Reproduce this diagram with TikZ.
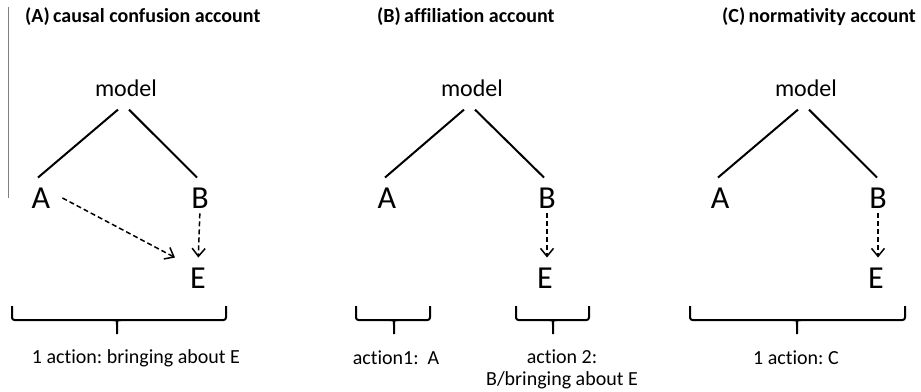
\documentclass[tikz,border=0pt]{standalone}
\usepackage{fontspec}
\setmainfont{Carlito}[Ligatures=NoCommon]
\frenchspacing
\usetikzlibrary{arrows.meta,positioning,calc}

% square brace under one action: left end, tip, right end
\newcommand\actbrace[3]{%
  \draw[act,rounded corners=2.5pt] (#1,306) -- (#1,320) -- (#3,320) -- (#3,306);
  \draw[act] (#2-4,320) .. controls (#2,320) .. (#2,325) -- (#2,334);
  \draw[act] (#2+4,320) .. controls (#2,320) .. (#2,325);}

\begin{document}
\begin{tikzpicture}[x=1pt,y=-1pt,
    title/.style={font=\fontsize{20}{22}\selectfont\bfseries,anchor=west,inner sep=0pt},
    top/.style={font=\fontsize{24}{28}\selectfont,inner sep=0pt},
    var/.style={font=\fontsize{32}{36}\selectfont,inner sep=0pt},
    note/.style={font=\fontsize{20}{22}\selectfont,inner sep=0pt,align=center},
    tree/.style={line width=2pt},
    cause/.style={line width=1.5pt,dash pattern=on 5pt off 3pt,
      -{Straight Barb[length=8pt,width=13pt,line width=1.5pt]}},
    act/.style={line width=2pt}]
  \useasboundingbox (0,0) rectangle (921,391);

  % separator at the left edge
  \draw[gray,line width=0.8pt] (8,7) -- (8,198);

  % (A) causal confusion
  \node[title] (tA) at (25,17) {(A)\,causal confusion account};
  \node[top] (mA) at (126,88) {model};
  \node[var] (aA) at (41,198) {A};
  \node[var] (bA) at (200,198) {B};
  \node[var] (eA) at (198,278) {E};
  \draw[tree] ([xshift=-8pt,yshift=-13pt]mA.south) -- ([xshift=-3pt,yshift=10pt]aA.north);
  \draw[tree] ([xshift=3pt,yshift=-13pt]mA.south) -- ([xshift=-3pt,yshift=10pt]bA.north);
  \draw[cause] ([xshift=12pt]aA.east) -- ([xshift=-15pt,yshift=10pt]eA.north west);
  \draw[cause,shorten <=5pt,shorten >=10pt] (bA.south) -- (eA.north);
  \actbrace{12}{117}{226}
  \node[note] (lA) at (136,358) {1 action: bringing about E};

  % (B) affiliation
  \node[title] (tB) at (377,17) {(B)\,affiliation account};
  \node[top] (mB) at (472,88) {model};
  \node[var] (aB) at (387,198) {A};
  \node[var] (bB) at (547,198) {B};
  \node[var] (eB) at (545,278) {E};
  \draw[tree] ([xshift=-8pt,yshift=-13pt]mB.south) -- ([xshift=-2pt,yshift=10pt]aB.north);
  \draw[tree] ([xshift=3pt,yshift=-13pt]mB.south) -- ([xshift=-3pt,yshift=10pt]bB.north);
  \draw[cause,shorten <=5pt,shorten >=10pt] (bB.south) -- (bB.south |- eB.north);
  \actbrace{356}{394}{430}
  \actbrace{516}{553}{589}
  \node[note] (lB1) at (396,358) {action1:\ \ A};
  \node[note] (lB2) at (562,369) {action 2:\\B/bringing about E};

  % (C) normativity
  \node[title] (tC) at (722,17) {(C)\,normativity account};
  \node[top] (mC) at (806,88) {model};
  \node[var] (aC) at (720,198) {A};
  \node[var] (bC) at (878,198) {B};
  \node[var] (eC) at (876,278) {E};
  \draw[tree] ([xshift=-8pt,yshift=-13pt]mC.south) -- ([xshift=-2pt,yshift=10pt]aC.north);
  \draw[tree] ([xshift=3pt,yshift=-13pt]mC.south) -- ([xshift=-1pt,yshift=10pt]bC.north);
  \draw[cause,shorten <=5pt,shorten >=10pt] (bC.south) -- (bC.south |- eC.north);
  \actbrace{690}{797}{905}
  \node[note] (lC) at (796,358) {1 action: C};
\end{tikzpicture}
\end{document}
